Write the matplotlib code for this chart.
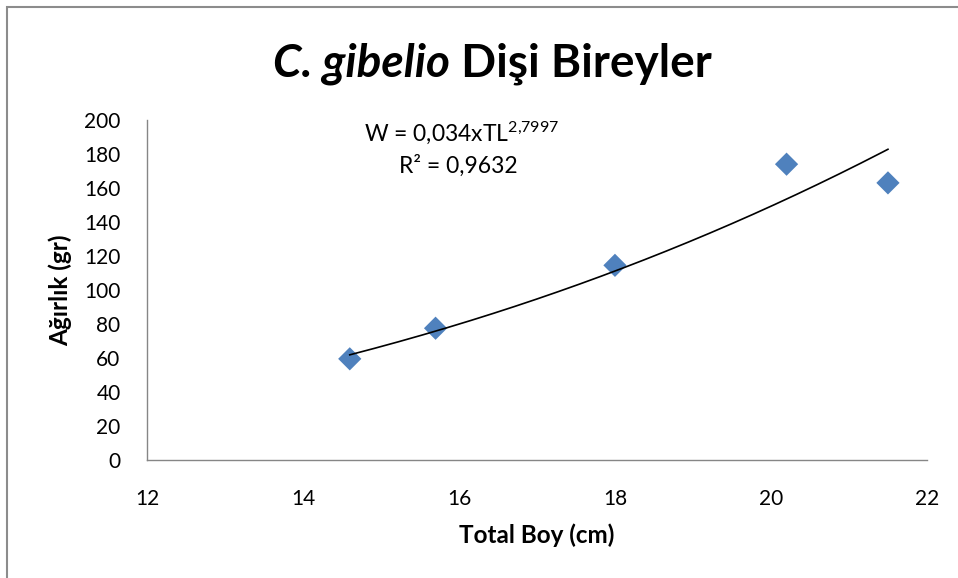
import numpy as np
import matplotlib
matplotlib.use("Agg")
import matplotlib.pyplot as plt
from matplotlib.patches import Rectangle

plt.rcParams["font.family"] = ["Lato", "DejaVu Sans"]
plt.rcParams["mathtext.fontset"] = "custom"
plt.rcParams["mathtext.rm"] = "Lato"
plt.rcParams["mathtext.it"] = "Lato:italic"
plt.rcParams["mathtext.bf"] = "Lato:bold"

# Female C. gibelio: total length (cm) and weight (g)
total_length = [14.6, 15.7, 18.0, 20.2, 21.5]
weight = [59.5, 77.5, 114.5, 174.0, 163.0]

# Length-weight relationship W = a * TL^b
coef_a = 0.034
coef_b = 2.7997
r_squared = 0.9632

x_ticks = [12, 14, 16, 18, 20, 22]
y_ticks = [0, 20, 40, 60, 80, 100, 120, 140, 160, 180, 200]

fig = plt.figure(figsize=(9.58, 5.78), dpi=100)
ax = fig.add_axes([0.1534, 0.2042, 0.8142, 0.5882])

# outer chart border
fig.patches.append(Rectangle((7 / 958, -0.05), 1.2, (578 - 6.5) / 578 + 0.05,
                             transform=fig.transFigure, fill=False,
                             edgecolor="#8c8c8c", linewidth=1.5))

ax.scatter(total_length, weight, marker="D", s=140, color="#4F81BD",
           edgecolors="none", zorder=2)

tl = np.linspace(min(total_length), max(total_length), 200)
ax.plot(tl, coef_a * tl ** coef_b, color="black", linewidth=1.2, zorder=3)

ax.set_xlim(12, 22)
ax.set_ylim(0, 200)
ax.set_xticks(x_ticks)
ax.set_yticks(y_ticks)
ax.tick_params(length=0, labelsize=15, colors="black")
ax.tick_params(axis="x", pad=21)
ax.tick_params(axis="y", pad=19)
for side in ("top", "right"):
    ax.spines[side].set_visible(False)
for side in ("left", "bottom"):
    ax.spines[side].set_color("#868686")
    ax.spines[side].set_linewidth(1.0)

fig.text(537 / 958, 1 - 535 / 578, "Total Boy (cm)", ha="center", va="center",
         fontsize=17.5, fontweight="bold")
fig.text(60 / 958, 1 - 290 / 578, "Ağırlık (gr)", ha="center", va="center",
         rotation=90, fontsize=17.5, fontweight="bold")

# equation of the fitted curve and its R²
fig.text(462 / 958, 1 - 133 / 578, "W = 0,034xTL$^{2{,}7997}$",
         ha="center", va="center", fontsize=16.5)
fig.text(458 / 958, 1 - 166 / 578, f"R² = {r_squared:.4f}".replace(".", ","),
         ha="center", va="center", fontsize=16.5)

# title: italic species name followed by upright text
t1 = fig.text(0, 1 - 77 / 578, "C. gibelio", fontsize=33, fontweight="bold",
              fontstyle="italic", ha="left", va="baseline")
t2 = fig.text(0, 1 - 77 / 578, " Dişi Bireyler", fontsize=33, fontweight="bold",
              ha="left", va="baseline")
fig.canvas.draw()
r = fig.canvas.get_renderer()
w1 = t1.get_window_extent(r).width
w2 = t2.get_window_extent(r).width
x0 = 492 - (w1 + w2) / 2
t1.set_x(x0 / 958)
t2.set_x((x0 + w1) / 958)

fig.savefig("out.png", dpi=100)
